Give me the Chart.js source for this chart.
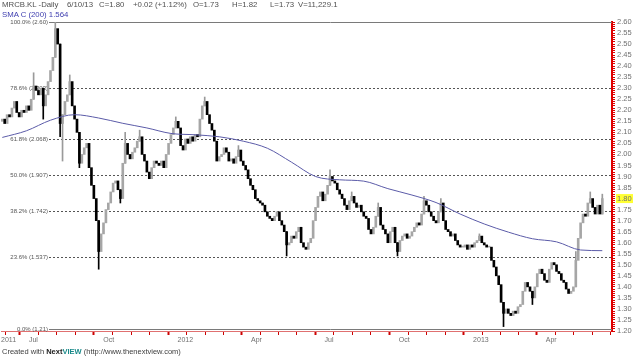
<!DOCTYPE html>
<html><head><meta charset="utf-8">
<script src="https://cdn.jsdelivr.net/npm/chart.js@4.4.1/dist/chart.umd.min.js"></script>
<style>
html,body{margin:0;padding:0;background:#fff;}
#wrap{position:relative;width:640px;height:357px;overflow:hidden;background:#fff;}
canvas{position:absolute;left:0;top:0;}
.t{position:absolute;font-family:"Liberation Sans",Arial,sans-serif;font-size:7.8px;line-height:10px;color:#505050;white-space:nowrap;}
</style></head><body>
<div id="wrap">
<canvas id="c" width="640" height="357"></canvas>
<div class="t" style="left:2px;top:0">MRCB.KL -Daily</div>
<div class="t" style="left:67px;top:0">6/10/13</div>
<div class="t" style="left:99px;top:0">C=1.80</div>
<div class="t" style="left:133px;top:0">+0.02 (+1.12%)</div>
<div class="t" style="left:193px;top:0">O=1.73</div>
<div class="t" style="left:232px;top:0">H=1.82</div>
<div class="t" style="left:270px;top:0">L=1.73</div>
<div class="t" style="left:298px;top:0">V=11,229.1</div>
<div class="t" style="left:2px;top:10px;color:#4040b0">SMA C (200) 1.564</div>
<div class="t" style="left:2px;top:347px;font-size:7.5px;color:#404040">Created with <b style="color:#202020">Next</b><b style="color:#1a8a8a">VIEW</b> (http://www.thenextview.com)</div>
</div>
<script>
// ---- data ----
const firstDate = '2011-05-29';
const lastDate = '2013-06-10';
const axisStartDate = '2011-05-27';
const axisEndDate = '2013-06-22';
const firstOpen = 2.15;
const closes = [
2.16,2.14,2.18,2.17,2.21,2.24,2.19,2.17,2.20,2.19,
2.22,2.20,2.25,2.31,2.29,2.27,2.30,2.22,2.27,2.33,
2.38,2.44,2.57,2.50,2.14,2.18,2.24,2.27,2.33,2.22,
2.16,2.10,1.96,2.00,2.03,2.05,1.94,1.86,1.80,1.70,
1.56,1.64,1.69,1.75,1.78,1.83,1.87,1.88,1.84,1.80,
1.96,2.05,2.00,1.98,2.01,2.03,2.06,2.08,2.00,1.97,
1.92,1.89,1.94,1.97,1.96,1.95,1.97,1.94,2.00,2.05,
2.09,2.12,2.15,2.12,2.04,2.02,2.07,2.05,2.08,2.06,
2.09,2.08,2.16,2.22,2.24,2.18,2.14,2.11,2.06,1.97,
1.99,2.00,2.03,2.01,1.97,1.98,1.96,1.99,2.02,1.97,
1.95,1.93,1.89,1.86,1.84,1.80,1.79,1.78,1.77,1.74,
1.72,1.71,1.70,1.72,1.74,1.70,1.68,1.65,1.59,1.60,
1.63,1.62,1.65,1.67,1.60,1.58,1.57,1.60,1.62,1.70,
1.76,1.81,1.83,1.79,1.82,1.86,1.90,1.88,1.87,1.84,
1.82,1.80,1.77,1.75,1.79,1.81,1.78,1.76,1.77,1.74,
1.72,1.71,1.66,1.64,1.67,1.72,1.76,1.68,1.66,1.64,
1.60,1.65,1.67,1.60,1.56,1.61,1.63,1.64,1.62,1.63,
1.65,1.67,1.69,1.68,1.73,1.79,1.77,1.74,1.72,1.70,
1.69,1.74,1.78,1.70,1.66,1.65,1.63,1.64,1.61,1.59,
1.58,1.58,1.59,1.57,1.59,1.58,1.60,1.61,1.63,1.60,
1.59,1.58,1.58,1.52,1.49,1.45,1.41,1.33,1.28,1.30,
1.28,1.27,1.29,1.28,1.31,1.32,1.38,1.42,1.40,1.38,
1.35,1.40,1.46,1.48,1.46,1.43,1.42,1.48,1.51,1.50,
1.47,1.46,1.43,1.42,1.39,1.37,1.38,1.40,1.52,1.62,
1.69,1.73,1.72,1.78,1.80,1.76,1.73,1.77,1.73,1.80];
const spikeIdx  = [13,17,22,24,25,28,32,40,49,51,57,72,84,98,118,136,145,156,164,175,182,198,208,220,238,244,249];
const spikeHigh = [2.37,null,2.60,null,null,2.36,null,null,null,2.10,2.11,2.17,2.26,2.04,null,1.93,1.83,1.78,null,1.81,1.80,1.64,null,null,1.56,1.83,1.82];
const spikeLow  = [null,2.16,null,2.08,1.97,null,1.94,1.48,1.78,null,null,null,null,null,1.54,null,null,null,1.54,null,null,null,1.22,1.32,1.47,null,null];
const smaAt   = [0,10,20,30,40,50,60,70,80,90,100,110,120,130,140,150,160,170,180,190,200,210,220,230,240,249];
const smaVals = [2.077,2.107,2.155,2.180,2.165,2.141,2.120,2.095,2.089,2.080,2.060,2.028,1.965,1.900,1.885,1.879,1.845,1.816,1.782,1.730,1.685,1.648,1.618,1.604,1.567,1.564];
const fibLevels = [2.60,2.303,2.068,1.907,1.742,1.537,1.21];
const fibLabels = ['100.0% (2.60)','78.6% (2.303)','61.8% (2.068)','50.0% (1.907)','38.2% (1.742)','23.6% (1.537)','0.0% (1.21)'];
const majorDates  = ['2011-07-01','2011-10-01','2012-01-01','2012-04-01','2012-07-01','2012-10-01','2013-01-01','2013-04-01'];
const majorLabels = ['Jul','Oct','2012','Apr','Jul','Oct','2013','Apr'];
const startLabel = '2011';
const yMin = 1.20, yMax = 2.60;

// ---- build ----
const EPOCH = Date.parse('2011-01-01');
const dayNum = s => (Date.parse(s) - EPOCH) / 86400000;
const d0 = dayNum(firstDate), d1 = dayNum(lastDate);
const n = closes.length;
const dayOf = i => d0 + i * (d1 - d0) / (n - 1);
const xMin = dayNum(axisStartDate) + 0.4, xMax = dayNum(axisEndDate);

const upBodies = [], downBodies = [], upWicks = [], downWicks = [];
for (let i = 0; i < n; i++) {
  const o = i === 0 ? firstOpen : closes[i - 1];
  const c = closes[i];
  const up = c >= o;
  (up ? upBodies : downBodies).push({x: dayOf(i), y: [o, c]});
  const k = spikeIdx.indexOf(i);
  if (k >= 0) {
    let lo = Math.min(o, c), hi = Math.max(o, c);
    if (spikeLow[k] != null) lo = Math.min(lo, spikeLow[k]);
    if (spikeHigh[k] != null) hi = Math.max(hi, spikeHigh[k]);
    (up ? upWicks : downWicks).push({x: dayOf(i), y: [lo, hi]});
  }
}
const smaData = smaAt.map((i, k) => ({x: dayOf(i), y: smaVals[k]}));

// x ticks: majors + quarter subdivisions
const majors = majorDates.map(dayNum);
const xTicks = [{value: xMin, label: startLabel, major: true}];
const q0 = majors[0] - (majors[1] - majors[0]);
const bounds = [q0, ...majors, majors[majors.length - 1] + (majors[1] - majors[0])];
for (let b = 0; b < bounds.length - 1; b++) {
  if (b > 0) xTicks.push({value: bounds[b], label: majorLabels[b - 1], major: true});
  for (let s = 1; s < 4; s++) {
    const v = bounds[b] + (bounds[b + 1] - bounds[b]) * s / 4;
    if (v > xMin + 2 && v < xMax) xTicks.push({value: v, label: '', major: false});
  }
}
xTicks.sort((a, b) => a.value - b.value);
const labelMap = new Map(xTicks.map(t => [Math.round(t.value * 100), t.label]));

const fibPlugin = {
  id: 'fib',
  beforeDatasetsDraw(chart) {
    const {ctx, chartArea, scales} = chart;
    ctx.save();
    ctx.font = '6px "Liberation Sans", Arial, sans-serif';
    ctx.textAlign = 'right';
    ctx.textBaseline = 'middle';
    fibLevels.forEach((lv, k) => {
      const y = Math.round(scales.y.getPixelForValue(lv)) + 0.5;
      const solid = (k === 0 || k === fibLevels.length - 1);
      ctx.strokeStyle = solid ? '#7a7a7a' : '#555555';
      ctx.lineWidth = 1;
      ctx.setLineDash(solid ? [] : [2, 2]);
      ctx.beginPath();
      ctx.moveTo(49, y);
      ctx.lineTo(chartArea.right, y);
      ctx.stroke();
      ctx.fillStyle = '#555555';
      ctx.fillText(fibLabels[k], 48, y);
    });
    ctx.restore();
  }
};
const highlightPlugin = {
  id: 'hl',
  beforeDraw(chart) {
    const {ctx, chartArea, scales} = chart;
    const y = scales.y.getPixelForValue(closes[n - 1]);
    ctx.save();
    ctx.fillStyle = '#ffff33';
    ctx.fillRect(chartArea.right + 4, y - 4.5, 17, 9);
    ctx.restore();
  }
};

const barCommon = {type: 'bar', stack: 'c', borderWidth: 0, borderSkipped: false, minBarLength: 1};
new Chart(document.getElementById('c'), {
  type: 'bar',
  data: {
    datasets: [
      {type: 'line', data: smaData, borderColor: '#5b5ba8', borderWidth: 1, pointRadius: 0,
       cubicInterpolationMode: 'monotone', fill: false, order: 0},
      Object.assign({}, barCommon, {data: downBodies, backgroundColor: '#000000', barThickness: 2, order: 1}),
      Object.assign({}, barCommon, {data: upBodies, backgroundColor: '#a6a6a6', barThickness: 2, order: 1}),
      Object.assign({}, barCommon, {data: downWicks, backgroundColor: '#000000', barThickness: 1, order: 2}),
      Object.assign({}, barCommon, {data: upWicks, backgroundColor: '#9a9a9a', barThickness: 1, order: 2})
    ]
  },
  options: {
    responsive: false,
    animation: false,
    devicePixelRatio: 1,
    layout: {padding: {top: 22, left: 0, right: 0, bottom: 0}},
    plugins: {legend: {display: false}, tooltip: {enabled: false}},
    events: [],
    scales: {
      x: {
        type: 'linear', min: xMin, max: xMax, offset: false,
        afterBuildTicks: s => { s.ticks = xTicks.map(t => ({value: t.value, major: t.major})); },
        afterFit: s => { s.height = 26; },
        ticks: {autoSkip: false, maxRotation: 0, align: 'start', padding: 1, color: '#707070',
                font: {family: '"Liberation Sans", Arial, sans-serif', size: 7},
                callback: v => labelMap.get(Math.round(v * 100)) || ''},
        grid: {drawOnChartArea: false, tickLength: 4, tickColor: '#cc0000',
               tickWidth: c => (c.tick && c.tick.major) ? 2 : 1},
        border: {color: '#e07070', width: 1}
      },
      y: {
        position: 'right', min: yMin, max: yMax, stacked: false,
        afterFit: s => { s.width = 28; },
        ticks: {stepSize: 0.01, autoSkip: false, padding: 2, color: '#707070',
                font: {family: '"Liberation Sans", Arial, sans-serif', size: 7.5},
                callback: v => (Math.round(v * 100) % 5 === 0) ? v.toFixed(2) : ''},
        grid: {drawOnChartArea: false, tickLength: 3, tickColor: '#dd0000', tickWidth: 1},
        border: {color: '#e00000', width: 2}
      }
    }
  },
  plugins: [fibPlugin, highlightPlugin]
});
</script>
</body></html>
